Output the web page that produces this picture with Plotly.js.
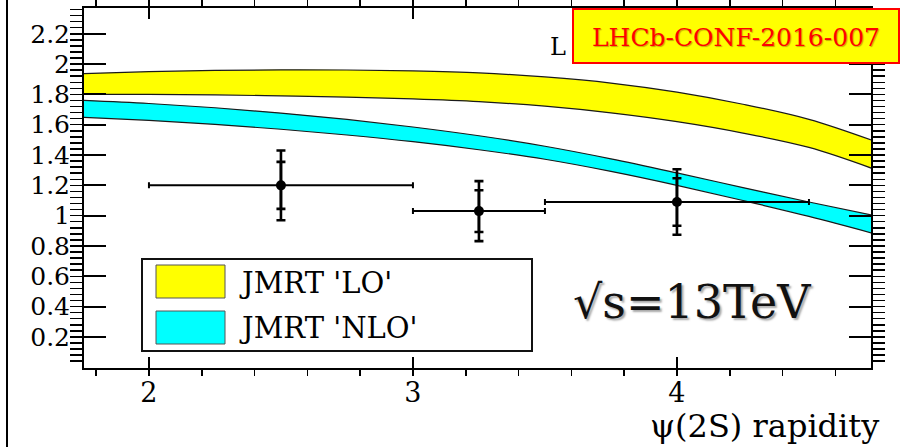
<!DOCTYPE html>
<html>
<head>
<meta charset="utf-8">
<script src="https://cdn.plot.ly/plotly-3.0.1.min.js"></script>
<style>
  html, body { margin: 0; padding: 0; background: #ffffff; }
  #chart { width: 903px; height: 447px; }
</style>
</head>
<body>
<div id="chart"></div>
<script>
// ---- data ----
const rapidityGrid = [1.75, 2.0, 2.25, 2.5, 2.75, 3.0, 3.25, 3.5, 3.75, 4.0, 4.25, 4.5, 4.75];
const loUpper  = [1.937, 1.950, 1.958, 1.962, 1.961, 1.955, 1.942, 1.915, 1.875, 1.815, 1.735, 1.635, 1.490];
const loLower  = [1.800, 1.800, 1.797, 1.790, 1.782, 1.770, 1.752, 1.722, 1.678, 1.620, 1.545, 1.450, 1.305];
const nloUpper = [1.761, 1.740, 1.712, 1.677, 1.635, 1.585, 1.527, 1.458, 1.375, 1.282, 1.185, 1.090, 1.000];
const nloLower = [1.649, 1.628, 1.602, 1.570, 1.532, 1.488, 1.435, 1.372, 1.292, 1.200, 1.100, 0.995, 0.880];

const dataX      = [2.5, 3.25, 4.0];
const dataXErr   = [0.5, 0.25, 0.5];
const dataY      = [1.20, 1.03, 1.09];
const dataStat   = [0.155, 0.138, 0.157];
const dataTotal  = [0.230, 0.198, 0.216];

const xTickVals  = [2, 3, 4];
const xTickText  = ['2', '3', '4'];
const yTickVals  = [0.2, 0.4, 0.6, 0.8, 1.0, 1.2, 1.4, 1.6, 1.8, 2.0, 2.2];
const yTickText  = ['0.2', '0.4', '0.6', '0.8', '1', '1.2', '1.4', '1.6', '1.8', '2', '2.2'];

const legendLabels = ["JMRT 'LO'", "JMRT 'NLO'"];
const xTitle = 'ψ(2S) rapidity';
const energyLabel = '√s=13TeV';
const confLabel = 'LHCb-CONF-2016-007';

// ---- styling ----
const PLOTFONT = 'DejaVu Serif';
const YELLOW = '#ffff00';
const CYAN = '#00ffff';
const EDGE = '#1a1a1a';

function band(lower, upper, color, name) {
  return [
    { x: rapidityGrid, y: lower, type: 'scatter', mode: 'lines',
      line: { color: EDGE, width: 1.2, shape: 'spline', smoothing: 1 }, showlegend: false, hoverinfo: 'skip', name: name + ' low' },
    { x: rapidityGrid, y: upper, type: 'scatter', mode: 'lines', fill: 'tonexty',
      fillcolor: color, line: { color: EDGE, width: 1.2, shape: 'spline', smoothing: 1 }, showlegend: false, name: name }
  ];
}

const traces = [
  ...band(loLower, loUpper, YELLOW, legendLabels[0]),
  ...band(nloLower, nloUpper, CYAN, legendLabels[1]),
  { x: dataX, y: dataY, type: 'scatter', mode: 'markers', showlegend: false, name: 'stat',
    marker: { size: 1, color: '#000' },
    error_y: { type: 'data', array: dataStat, color: '#000', thickness: 2.6, width: 4.5 } },
  { x: dataX, y: dataY, type: 'scatter', mode: 'markers', showlegend: false, name: 'data',
    marker: { size: 10, color: '#000' },
    error_x: { type: 'data', array: dataXErr, color: '#000', thickness: 2, width: 3 },
    error_y: { type: 'data', array: dataTotal, color: '#000', thickness: 2.6, width: 4.5 } }
];

const PL = 84, PR = 871, PT = 8, PB = 368;
const px = v => (v - PL) / (PR - PL);
const py = v => (PB - v) / (PB - PT);

const layout = {
  width: 903, height: 447,
  margin: { l: PL, r: 903 - PR, t: PT, b: 447 - PB, pad: 0 },
  paper_bgcolor: '#ffffff', plot_bgcolor: '#ffffff',
  showlegend: false,
  font: { family: PLOTFONT, color: '#000', size: 20 },
  xaxis: {
    range: [1.754, 4.735], tickmode: 'array', tickvals: xTickVals, ticktext: xTickText,
    ticks: 'inside', ticklen: 11, tickwidth: 2, tickcolor: '#000',
    minor: { tickmode: 'linear', tick0: 0, dtick: 0.2, ticklen: 6, tickwidth: 1.5, tickcolor: '#000', showgrid: false },
    showline: true, linecolor: '#000', linewidth: 2, mirror: 'allticks',
    showgrid: false, zeroline: false,
    tickfont: { family: PLOTFONT, size: 27, color: '#000' }
  },
  yaxis: {
    range: [-0.005, 2.37], tickmode: 'array', tickvals: yTickVals, ticktext: yTickText,
    ticks: 'inside', ticklen: 22, tickwidth: 2, tickcolor: '#000',
    minor: { tickmode: 'linear', tick0: 0, dtick: 0.04, ticklen: 12, tickwidth: 1.5, tickcolor: '#000', showgrid: false },
    showline: true, linecolor: '#000', linewidth: 2, mirror: 'allticks',
    showgrid: false, zeroline: false, ticklabelstandoff: 7,
    tickfont: { family: PLOTFONT, size: 25, color: '#000' }
  },
  shapes: [
    { type: 'line', xref: 'paper', yref: 'paper', x0: px(7), x1: px(7), y0: py(447), y1: py(0),
      line: { color: '#000', width: 2 } },
    { type: 'rect', xref: 'paper', yref: 'paper', x0: px(142), x1: px(532), y0: py(351), y1: py(259),
      fillcolor: '#fff', line: { color: '#111', width: 2 } },
    { type: 'rect', xref: 'paper', yref: 'paper', x0: px(156), x1: px(225), y0: py(298), y1: py(265),
      fillcolor: YELLOW, line: { color: '#555', width: 1 } },
    { type: 'rect', xref: 'paper', yref: 'paper', x0: px(156), x1: px(225), y0: py(344), y1: py(311),
      fillcolor: CYAN, line: { color: '#555', width: 1 } },
    { type: 'rect', xref: 'paper', yref: 'paper', x0: px(573), x1: px(899), y0: py(63), y1: py(9),
      fillcolor: YELLOW, line: { color: '#ff0000', width: 2 } }
  ],
  annotations: [
    { xref: 'paper', yref: 'paper', x: px(237), y: py(283), xanchor: 'left', yanchor: 'middle',
      text: legendLabels[0], showarrow: false, font: { family: PLOTFONT, size: 29, color: '#000' } },
    { xref: 'paper', yref: 'paper', x: px(237), y: py(328), xanchor: 'left', yanchor: 'middle',
      text: legendLabels[1], showarrow: false, font: { family: PLOTFONT, size: 29, color: '#000' } },
    { xref: 'paper', yref: 'paper', x: px(881), y: py(405), xanchor: 'right', yanchor: 'top',
      text: xTitle, showarrow: false, font: { family: PLOTFONT, size: 32, color: '#000' } },
    { xref: 'paper', yref: 'paper', x: px(692), y: py(302), xanchor: 'center', yanchor: 'middle',
      text: energyLabel, showarrow: false,
      font: { family: PLOTFONT, size: 46, color: '#111', shadow: '2px 2px 2px #a8a8a8' } },
    { xref: 'paper', yref: 'paper', x: px(558), y: py(47), xanchor: 'center', yanchor: 'middle',
      text: 'L', showarrow: false, font: { family: PLOTFONT, size: 24, color: '#000' } },
    { xref: 'paper', yref: 'paper', x: px(736), y: py(37), xanchor: 'center', yanchor: 'middle',
      text: confLabel, showarrow: false,
      font: { family: PLOTFONT, size: 25, color: '#ff0000', shadow: '1px 1px 1px #c8a800' } }
  ]
};

Plotly.newPlot('chart', traces, layout, { staticPlot: true, displayModeBar: false });
</script>
</body>
</html>
